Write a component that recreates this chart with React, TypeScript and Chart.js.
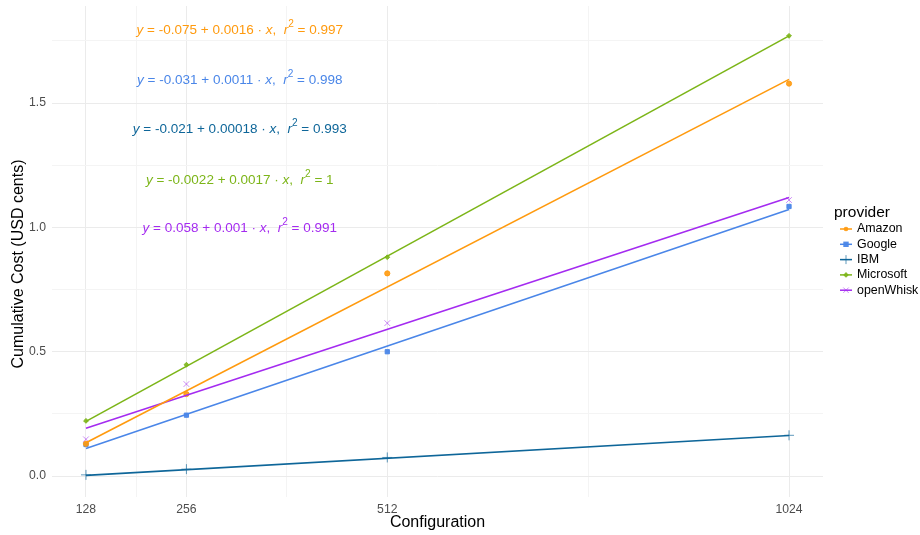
import React, { useEffect, useRef } from "react";
import { Chart, registerables } from "chart.js";

Chart.register(...registerables);

// ---- data ----
const configurations = [128, 256, 512, 1024];
const providers = ["Amazon", "Google", "IBM", "Microsoft", "openWhisk"];
const amazonCost = [0.13, 0.33, 0.815, 1.578];
const googleCost = [0.127, 0.245, 0.5, 1.084];
const ibmCost = [0.005, 0.028, 0.075, 0.164];
const microsoftCost = [0.222, 0.448, 0.88, 1.77];
const openWhiskCost = [0.148, 0.37, 0.615, 1.11];
// fitted line values at 128 and 1024
const fitRange = [128, 1024];
const amazonFit = [0.134, 1.595];
const googleFit = [0.111, 1.072];
const ibmFit = [0.003, 0.163];
const microsoftFit = [0.22, 1.77];
const openWhiskFit = [0.192, 1.12];
// equation labels
const eqIntercepts = ["-0.075", "-0.031", "-0.021", "-0.0022", "0.058"];
const eqSlopes = ["0.0016", "0.0011", "0.00018", "0.0017", "0.001"];
const eqR2 = ["0.997", "0.998", "0.993", "1", "0.991"];
const eqOrder = [0, 1, 2, 3, 4];
// tick labels
const xMajorTicks = [128, 256, 512, 1024];
const xMinorTicks = [192, 384, 768];
const yMajorTicks = [0, 0.5, 1, 1.5];
const yMinorTicks = [0.25, 0.75, 1.25, 1.75];

const costs = [amazonCost, googleCost, ibmCost, microsoftCost, openWhiskCost];
const fits = [amazonFit, googleFit, ibmFit, microsoftFit, openWhiskFit];
const colors = ["#FF9A0E", "#4A86E8", "#0E6699", "#7CB518", "#A42BF0"];
const pointColors = [
  "rgba(255,154,14,0.9)",
  "rgba(74,134,232,0.95)",
  "rgba(14,102,153,0.65)",
  "rgba(124,181,24,0.9)",
  "rgba(164,43,240,0.55)",
];
const pointStyles: any[] = ["circle", "rect", "cross", "rectRot", "crossRot"];
const pointRadii = [2.6, 3, 5, 2.4, 4];

const FONT = "'Liberation Sans', Arial, sans-serif";

function drawEquation(ctx: CanvasRenderingContext2D, cx: number, cy: number, i: number, color: string) {
  const size = 13.5;
  const segs = [
    { t: "y", it: true },
    { t: " = " + eqIntercepts[i] + " + " + eqSlopes[i] + " \u00B7 ", it: false },
    { t: "x", it: true },
    { t: ",  ", it: false },
    { t: "r", it: true },
    { t: "2", sup: true },
    { t: " = " + eqR2[i], it: false },
  ] as { t: string; it?: boolean; sup?: boolean }[];
  const fontFor = (s: any) =>
    s.sup ? `${size * 0.75}px ${FONT}` : `${s.it ? "italic " : ""}${size}px ${FONT}`;
  let total = 0;
  const widths = segs.map((s) => {
    ctx.font = fontFor(s);
    const w = ctx.measureText(s.t).width;
    total += w;
    return w;
  });
  let x = cx - total / 2;
  ctx.fillStyle = color;
  ctx.textBaseline = "middle";
  ctx.textAlign = "left";
  segs.forEach((s, k) => {
    ctx.font = fontFor(s);
    ctx.fillText(s.t, x, s.sup ? cy - 6 : cy);
    x += widths[k];
  });
}

function drawMarker(ctx: CanvasRenderingContext2D, style: string, x: number, y: number, r: number, color: string) {
  ctx.save();
  ctx.fillStyle = color;
  ctx.strokeStyle = color;
  ctx.lineWidth = 1;
  ctx.beginPath();
  if (style === "circle") {
    ctx.arc(x, y, r, 0, Math.PI * 2);
    ctx.fill();
  } else if (style === "rect") {
    ctx.fillRect(x - r, y - r, 2 * r, 2 * r);
  } else if (style === "cross") {
    ctx.moveTo(x - r, y);
    ctx.lineTo(x + r, y);
    ctx.moveTo(x, y - r);
    ctx.lineTo(x, y + r);
    ctx.stroke();
  } else if (style === "rectRot") {
    ctx.moveTo(x, y - r * 1.3);
    ctx.lineTo(x + r * 1.3, y);
    ctx.lineTo(x, y + r * 1.3);
    ctx.lineTo(x - r * 1.3, y);
    ctx.closePath();
    ctx.fill();
  } else {
    const d = r * 0.75;
    ctx.moveTo(x - d, y - d);
    ctx.lineTo(x + d, y + d);
    ctx.moveTo(x + d, y - d);
    ctx.lineTo(x - d, y + d);
    ctx.stroke();
  }
  ctx.restore();
}

const overlayPlugin = {
  id: "overlay",
  afterDraw(chart: any) {
    const ctx: CanvasRenderingContext2D = chart.ctx;
    const xs = chart.scales.x;
    const ys = chart.scales.y;
    ctx.save();
    // equations
    const eqX = xs.getPixelForValue(324);
    const eqYs = [1.793, 1.592, 1.396, 1.191, 0.995];
    eqOrder.forEach((i, k) => drawEquation(ctx, eqX, ys.getPixelForValue(eqYs[k]), i, colors[i]));
    // y axis title
    ctx.save();
    ctx.translate(19, 264);
    ctx.rotate(-Math.PI / 2);
    ctx.font = `16px ${FONT}`;
    ctx.fillStyle = "#000";
    ctx.textAlign = "center";
    ctx.textBaseline = "middle";
    ctx.fillText("Cumulative Cost (USD cents)", 0, 0);
    ctx.restore();
    // x axis title
    ctx.font = `16px ${FONT}`;
    ctx.fillStyle = "#000";
    ctx.textAlign = "center";
    ctx.textBaseline = "middle";
    ctx.fillText("Configuration", (chart.chartArea.left + chart.chartArea.right) / 2, 523);
    // legend
    ctx.font = `15.5px ${FONT}`;
    ctx.fillStyle = "#000";
    ctx.textAlign = "left";
    ctx.textBaseline = "middle";
    ctx.fillText("provider", 834, 213);
    providers.forEach((p, i) => {
      const y = 229 + i * 15.3;
      ctx.strokeStyle = colors[i];
      ctx.lineWidth = 1.5;
      ctx.beginPath();
      ctx.moveTo(840, y);
      ctx.lineTo(852, y);
      ctx.stroke();
      drawMarker(ctx, pointStyles[i], 846, y, pointRadii[i] * 0.9, pointColors[i]);
      ctx.fillStyle = "#000";
      ctx.font = `12.4px ${FONT}`;
      ctx.fillText(p, 857, y);
    });
    ctx.restore();
  },
};

export default function App() {
  const ref = useRef<HTMLCanvasElement | null>(null);
  useEffect(() => {
    if (!ref.current) return;
    const datasets: any[] = [];
    providers.forEach((p, i) => {
      datasets.push({
        label: p,
        data: configurations.map((c, k) => ({ x: c, y: costs[i][k] })),
        showLine: false,
        pointStyle: pointStyles[i],
        pointRadius: pointRadii[i],
        pointBackgroundColor: pointColors[i],
        pointBorderColor: pointColors[i],
        pointBorderWidth: 1,
        order: 2,
      });
      datasets.push({
        label: p + " fit",
        data: fitRange.map((c, k) => ({ x: c, y: fits[i][k] })),
        showLine: true,
        borderColor: colors[i],
        borderWidth: 1.6,
        pointRadius: 0,
        fill: false,
        order: 1,
      });
    });
    const chart = new Chart(ref.current, {
      type: "scatter",
      data: { datasets },
      options: {
        animation: false,
        responsive: false,
        layout: { padding: { left: 0, right: 97, top: 5, bottom: 0 } },
        plugins: { legend: { display: false }, tooltip: { enabled: false } },
        scales: {
          x: {
            type: "linear",
            min: 84.7,
            max: 1067.3,
            afterBuildTicks: (s: any) => {
              s.ticks = [...xMajorTicks, ...xMinorTicks].sort((a, b) => a - b).map((v) => ({ value: v }));
            },
            afterFit: (s: any) => {
              s.height = 38;
              s.paddingLeft = 0;
              s.paddingRight = 0;
            },
            ticks: {
              autoSkip: false,
              maxRotation: 0,
              padding: 5,
              color: "#4D4D4D",
              font: { family: FONT, size: 12.2 },
              callback: (v: any) => (xMajorTicks.includes(Number(v)) ? String(v) : ""),
            },
            grid: {
              drawTicks: false,
              color: (c: any) => (xMajorTicks.includes(c.tick?.value) ? "#EBEBEB" : "#F4F4F4"),
              lineWidth: 1,
            },
            border: { display: false },
          },
          y: {
            type: "linear",
            min: -0.084,
            max: 1.89,
            afterBuildTicks: (s: any) => {
              s.ticks = [...yMajorTicks, ...yMinorTicks].sort((a, b) => a - b).map((v) => ({ value: v }));
            },
            afterFit: (s: any) => {
              s.width = 52;
              s.paddingTop = 0;
              s.paddingBottom = 0;
            },
            ticks: {
              autoSkip: false,
              padding: 6,
              color: "#4D4D4D",
              font: { family: FONT, size: 12.2 },
              callback: (v: any) => (yMajorTicks.includes(Number(v)) ? Number(v).toFixed(1) : ""),
            },
            grid: {
              drawTicks: false,
              color: (c: any) => (yMajorTicks.includes(c.tick?.value) ? "#EBEBEB" : "#F4F4F4"),
              lineWidth: 1,
            },
            border: { display: false },
          },
        },
      },
      plugins: [overlayPlugin],
    });
    return () => chart.destroy();
  }, []);
  return (
    <div style={{ position: "fixed", left: 0, top: 0, width: 920, height: 535, background: "#fff" }}>
      <canvas ref={ref} width={920} height={535} style={{ width: 920, height: 535 }} />
    </div>
  );
}
